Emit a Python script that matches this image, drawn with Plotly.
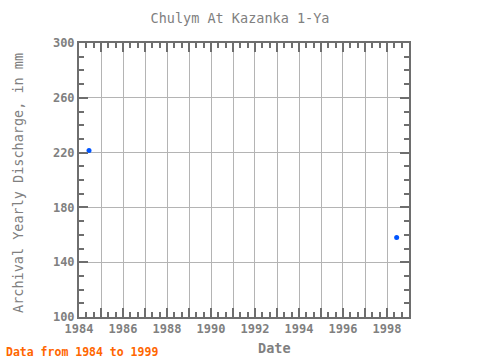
import plotly.graph_objects as go

dates = ["1984-06-15", "1998-06-10"]
values = [221.5, 158.0]
x_tick_years = list(range(1984, 2000))
x_tick_labels = [str(y) if (y - 1984) % 2 == 0 else "" for y in x_tick_years]
y_tick_vals = [100, 140, 180, 220, 260, 300]

font_fam = "DejaVu Sans Mono, Liberation Mono, monospace"
gray = "#808080"
axis_col = "#6e6e6e"

fig = go.Figure()
fig.add_trace(go.Scatter(
    x=dates, y=values, mode="markers",
    marker=dict(color="#0055ff", size=5, symbol="circle"),
    showlegend=False,
))

fig.update_layout(
    width=480, height=360,
    margin=dict(l=79, r=71, t=43, b=43, autoexpand=False),
    paper_bgcolor="white", plot_bgcolor="white",
    title=dict(text="Chulym At Kazanka 1-Ya", x=0.5, xanchor="center", y=1 - 18 / 360, yanchor="middle",
               font=dict(family=font_fam, size=13.5, color=gray)),
    font=dict(family=font_fam, color=gray),
)

fig.update_xaxes(
    type="date",
    automargin=False,
    range=["1984-01-01", "1999-01-01"],
    tickmode="array",
    tickvals=[f"{y}-01-01" for y in x_tick_years],
    ticktext=x_tick_labels,
    ticks="inside", ticklen=9, tickwidth=2, tickcolor=axis_col,
    showgrid=True, gridcolor="#b4b4b4", gridwidth=1,
    showline=True, linecolor=axis_col, linewidth=2, mirror="allticks",
    tickfont=dict(family=font_fam, size=12, color=gray, weight="bold"),
    minor=dict(dtick="M4", tick0="1984-01-01", ticks="inside", ticklen=5, tickwidth=2, tickcolor=axis_col, showgrid=False),
    zeroline=False,
)

fig.update_yaxes(
    automargin=False,
    range=[100, 300],
    tickmode="array",
    tickvals=y_tick_vals,
    ticks="inside", ticklen=9, tickwidth=2, tickcolor=axis_col,
    showgrid=True, gridcolor="#b4b4b4", gridwidth=1,
    showline=True, linecolor=axis_col, linewidth=2, mirror="allticks",
    tickfont=dict(family=font_fam, size=12, color=gray, weight="bold"),
    minor=dict(dtick=10, tick0=100, ticks="inside", ticklen=5, tickwidth=2, tickcolor=axis_col, showgrid=False),
    zeroline=False,
)

# y-axis title
fig.add_annotation(
    text="Archival Yearly Discharge, in mm", xref="paper", yref="paper",
    x=(18 - 79) / 330, y=(317 - 183) / 274, xanchor="center", yanchor="middle",
    textangle=-90, showarrow=False,
    font=dict(family=font_fam, size=13.5, color=gray),
)
# x-axis title
fig.add_annotation(
    text="Date", xref="paper", yref="paper",
    x=(274 - 79) / 330, y=(317 - 348) / 274, xanchor="center", yanchor="middle",
    showarrow=False,
    font=dict(family=font_fam, size=13.5, color=gray, weight="bold"),
)
fig.add_annotation(
    text="Data from 1984 to 1999", xref="paper", yref="paper",
    x=(4 - 79) / 330, y=(317 - 352) / 274, xanchor="left", yanchor="middle", showarrow=False,
    font=dict(family=font_fam, size=11.5, color="#ff6600", weight="bold"),
)

fig.write_html("out.html", config={"displayModeBar": False},
               post_script="document.body.style.margin='0';document.body.style.overflow='hidden';")
